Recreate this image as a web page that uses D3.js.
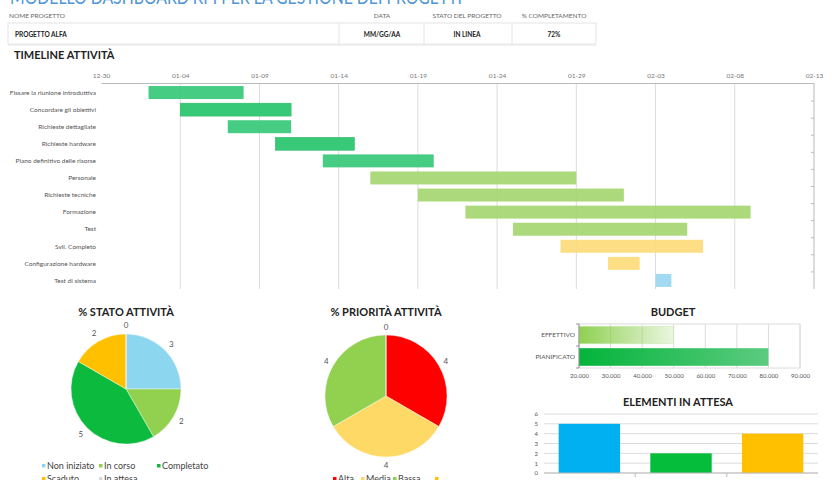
<!DOCTYPE html>
<html lang="it">
<head>
<meta charset="utf-8">
<title>Modello dashboard KPI per la gestione dei progetti</title>
<script src="https://cdnjs.cloudflare.com/ajax/libs/d3/7.8.5/d3.min.js"></script>
<style>
    body { margin: 0; background: #fff; }
    svg { display: block; font-family: Lato, "Open Sans", sans-serif; }
</style>
</head>
<body>
<script>
// ---- data ----
var headerLabels = ["NOME PROGETTO", "DATA", "STATO DEL PROGETTO", "% COMPLETAMENTO"];
var headerValues = ["PROGETTO ALFA", "MM/GG/AA", "IN LINEA", "72%"];

var tasks = ["Fissare la riunione introduttiva", "Concordare gli obiettivi", "Richieste dettagliate",
    "Richieste hardware", "Piano definitivo delle risorse", "Personale", "Richieste tecniche",
    "Formazione", "Test", "Svil. Completo", "Configurazione hardware", "Test di sistema"];
var taskStart = ["2023-01-02", "2023-01-04", "2023-01-07", "2023-01-10", "2023-01-13", "2023-01-16",
    "2023-01-19", "2023-01-22", "2023-01-25", "2023-01-28", "2023-01-31", "2023-02-03"];
var taskEnd = ["2023-01-08", "2023-01-11", "2023-01-11", "2023-01-15", "2023-01-20", "2023-01-29",
    "2023-02-01", "2023-02-09", "2023-02-05", "2023-02-06", "2023-02-02", "2023-02-04"];
var taskStatus = ["Completato", "Completato", "Completato", "Completato", "Completato", "In corso",
    "In corso", "In corso", "In corso", "Scaduto", "Scaduto", "Non iniziato"];

var statoLabels = ["Non iniziato", "In corso", "Completato", "Scaduto", "In attesa"];
var statoValues = [3, 2, 5, 2, 0];

var prioritaLabels = ["Alta", "Media", "Bassa", ""];
var prioritaValues = [4, 4, 4, 0];

var budgetLabels = ["EFFETTIVO", "PIANIFICATO"];
var budgetValues = [50000, 80000];

var attesaLabels = ["Decisioni", "Azioni", "Richieste di modifica"];
var attesaValues = [5, 2, 4];

// ---- colours ----
var ganttColor = { "Completato": "#37c878", "In corso": "#a4d670", "Scaduto": "#fedb7b", "Non iniziato": "#9ad8f0" };
var statoColor = d3.scaleOrdinal().domain(statoLabels)
    .range(["#8dd6ef", "#92d050", "#0cbb3e", "#ffc000", "#d9d9d9"]);
var prioritaColor = d3.scaleOrdinal().domain(prioritaLabels)
    .range(["#ff0000", "#ffd966", "#92d050", "#ffc000"]);
var grid = "#dcdcdc", txt = "#555";

var it = d3.formatLocale({ decimal: ",", thousands: ".", grouping: [3], currency: ["€", ""] });

var svg = d3.select("body").append("svg").attr("width", 840).attr("height", 480);

// ---- page header ----
svg.append("text").attr("x", 10).attr("y", 4)
    .attr("textLength", 452).attr("lengthAdjust", "spacingAndGlyphs")
    .style("font-size", "19px").style("fill", "#4f95d6")
    .text("MODELLO DASHBOARD KPI PER LA GESTIONE DEI PROGETTI");

var colX = [9, 382, 467, 554];
svg.selectAll(".hlab").data(headerLabels).enter().append("text")
    .attr("x", (d, i) => colX[i]).attr("y", 18)
    .attr("text-anchor", (d, i) => i == 0 ? "start" : "middle")
    .style("font-size", "6.5px").style("fill", "#666").text(d => d);

svg.append("rect").attr("x", 8).attr("y", 23).attr("width", 588).attr("height", 21)
    .attr("fill", "#fff").attr("stroke", "#e4e4e4");
svg.append("line").attr("x1", 8).attr("x2", 596).attr("y1", 45).attr("y2", 45).attr("stroke", "#efefef").attr("stroke-width", 2);
[339, 424, 512].forEach(function(xx) {
    svg.append("line").attr("x1", xx).attr("x2", xx).attr("y1", 23).attr("y2", 44).attr("stroke", "#e4e4e4");
});
svg.selectAll(".hval").data(headerValues).enter().append("text")
    .attr("x", (d, i) => i == 0 ? 15 : colX[i]).attr("y", 37)
    .attr("text-anchor", (d, i) => i == 0 ? "start" : "middle")
    .style("font-size", "6.5px").style("font-weight", "bold").style("fill", "#222").text(d => d);

function title(x, y, s, anchor) {
    svg.append("text").attr("x", x).attr("y", y).attr("text-anchor", anchor || "middle")
        .style("font-size", "11px").style("font-weight", "bold").style("fill", "#222").text(s);
}
title(14, 59, "TIMELINE ATTIVITÀ", "start");

// ---- gantt ----
var parse = d3.timeParse("%Y-%m-%d");
var t0 = parse("2022-12-30"), t1 = parse("2023-02-13");
var x = d3.scaleTime().domain([t0, t1]).range([101, 814]);
var y = d3.scaleBand().domain(tasks).range([84, 289]).paddingInner(0.24).paddingOuter(0.12);
var ticks = d3.timeDay.range(t0, d3.timeDay.offset(t1, 1), 5);

var gantt = svg.append("g");
gantt.selectAll(".vgrid").data(ticks.slice(1)).enter().append("line")
    .attr("x1", d => x(d)).attr("x2", d => x(d)).attr("y1", 83).attr("y2", 289)
    .attr("stroke", grid);

var ax = gantt.append("g").attr("transform", "translate(0,83)")
    .call(d3.axisTop(x).tickValues(ticks).tickFormat(d3.timeFormat("%m-%d")).tickSize(0).tickPadding(5));
ax.select(".domain").attr("stroke", "#bbb");
ax.selectAll("text").style("font-size", "6.5px").style("fill", "#777").style("font-family", "Lato, sans-serif");

// right edge with small row ticks
gantt.append("line").attr("x1", 814).attr("x2", 814).attr("y1", 83).attr("y2", 289).attr("stroke", "#ccc");
gantt.selectAll(".rtick").data(tasks.slice(1)).enter().append("line")
    .attr("x1", 811).attr("x2", 814).attr("y1", d => y(d) - y.step() * y.paddingInner() / 2)
    .attr("y2", d => y(d) - y.step() * y.paddingInner() / 2).attr("stroke", "#bbb");

gantt.selectAll(".bar").data(tasks).enter().append("rect")
    .attr("x", (d, i) => x(parse(taskStart[i])))
    .attr("width", (d, i) => x(parse(taskEnd[i])) - x(parse(taskStart[i])))
    .attr("y", d => y(d)).attr("height", y.bandwidth())
    .attr("fill", (d, i) => ganttColor[taskStatus[i]])
    .attr("fill-opacity", (d, i) => taskStatus[i] == "Completato" && i % 2 == 1 ? 1 : 0.92)
    .attr("stroke", (d, i) => taskStatus[i] == "Completato" && i % 2 == 1 ? "#2fb96a" : "none")
    .attr("stroke-width", 0.5);

gantt.selectAll(".tlab").data(tasks).enter().append("text")
    .attr("x", 96).attr("y", d => y(d) + y.bandwidth() / 2).attr("dy", "0.35em")
    .attr("text-anchor", "end").style("font-size", "6.5px").style("fill", txt).text(d => d);

// ---- pies ----
function drawPie(cx, cy, r, labelR, labels, values, color) {
    var g = svg.append("g").attr("transform", `translate(${cx},${cy})`);
    var arcs = d3.pie().sort(null)(values);
    var arc = d3.arc().innerRadius(0).outerRadius(r);
    var lab = d3.arc().innerRadius(labelR).outerRadius(labelR);
    g.selectAll("path").data(arcs).enter().append("path")
        .attr("d", arc).attr("fill", (d, i) => color(labels[i]))
        .attr("stroke", "#fff").attr("stroke-width", 0.4);
    g.selectAll("text").data(arcs).enter().append("text")
        .attr("transform", d => `translate(${lab.centroid(d)})`).attr("dy", "0.35em")
        .attr("text-anchor", "middle").style("font-size", "8px").style("fill", txt)
        .text(d => d.data);
}
function legend(items, xs, ys, color) {
    items.forEach(function(s, i) {
        svg.append("rect").attr("x", xs[i]).attr("y", ys[i] - 5).attr("width", 3.5).attr("height", 3.5)
            .attr("fill", color(s));
        svg.append("text").attr("x", xs[i] + 5).attr("y", ys[i]).style("font-size", "9px")
            .style("fill", "#444").text(s);
    });
}

title(126, 316, "% STATO ATTIVITÀ");
drawPie(126, 389, 55, 64, statoLabels, statoValues, statoColor);
legend(statoLabels, [42, 99, 157, 42, 99], [469, 469, 469, 482, 482], statoColor);

title(386, 316, "% PRIORITÀ ATTIVITÀ");
drawPie(386, 396, 61, 69, prioritaLabels, prioritaValues, prioritaColor);
legend(prioritaLabels, [333, 361, 393, 435], [482, 482, 482, 482], prioritaColor);

// ---- budget ----
title(673, 316, "BUDGET");
var bx = d3.scaleLinear().domain([20000, 90000]).range([579, 800]);
var by = d3.scaleBand().domain(budgetLabels).range([324, 368]).paddingInner(0.2).paddingOuter(0.1);
var defs = svg.append("defs");
var g1 = defs.append("linearGradient").attr("id", "gEff");
g1.append("stop").attr("offset", "0%").attr("stop-color", "#8fd052");
g1.append("stop").attr("offset", "100%").attr("stop-color", "#8fd052").attr("stop-opacity", 0.18);
var g2 = defs.append("linearGradient").attr("id", "gPian");
g2.append("stop").attr("offset", "0%").attr("stop-color", "#04b43b");
g2.append("stop").attr("offset", "100%").attr("stop-color", "#5ccb80");

var bud = svg.append("g");
bud.selectAll(".bg").data(bx.ticks(7)).enter().append("line")
    .attr("x1", d => bx(d)).attr("x2", d => bx(d)).attr("y1", 324).attr("y2", 368).attr("stroke", grid);
bud.append("rect").attr("x", 579).attr("y", 324).attr("width", 221).attr("height", 44)
    .attr("fill", "none").attr("stroke", grid);
bud.selectAll(".bb").data(budgetLabels).enter().append("rect")
    .attr("x", bx(20000)).attr("y", d => by(d)).attr("height", by.bandwidth())
    .attr("width", (d, i) => bx(budgetValues[i]) - bx(20000))
    .attr("fill", (d, i) => i == 0 ? "url(#gEff)" : "url(#gPian)")
    .attr("stroke", (d, i) => i == 0 ? "#cfe8b8" : "none").attr("stroke-width", 0.5);
var bax = bud.append("g").attr("transform", "translate(0,368)")
    .call(d3.axisBottom(bx).ticks(7).tickFormat(it.format(",")).tickSize(0).tickPadding(6));
bax.select(".domain").remove();
bax.selectAll("text").style("font-size", "6px").style("fill", txt).style("font-family", "Lato, sans-serif");
bud.append("line").attr("x1", 579).attr("x2", 579).attr("y1", 324).attr("y2", 368).attr("stroke", "#999");
[324, 346, 368].forEach(function(yy) {
    bud.append("line").attr("x1", 576).attr("x2", 579).attr("y1", yy).attr("y2", yy).attr("stroke", "#999");
});
bud.selectAll(".bl").data(budgetLabels).enter().append("text")
    .attr("x", 575).attr("y", d => by(d) + by.bandwidth() / 2).attr("dy", "0.35em")
    .attr("text-anchor", "end").style("font-size", "6.5px").style("fill", txt).text(d => d);

// ---- elementi in attesa ----
title(678, 406, "ELEMENTI IN ATTESA");
var ex = d3.scaleBand().domain(attesaLabels).range([544, 818]).paddingInner(0.33).paddingOuter(0.16);
var ey = d3.scaleLinear().domain([0, 6]).range([473, 414]);
var attesaColor = ["#00b0f0", "#05bd3a", "#ffc000"];
var el = svg.append("g");
el.selectAll(".eg").data(ey.ticks(6)).enter().append("line")
    .attr("x1", 544).attr("x2", 818).attr("y1", d => ey(d)).attr("y2", d => ey(d)).attr("stroke", grid);
var eax = el.append("g").attr("transform", "translate(544,0)")
    .call(d3.axisLeft(ey).ticks(6).tickSize(0).tickPadding(6));
eax.select(".domain").remove();
eax.selectAll("text").style("font-size", "6px").style("fill", txt).style("font-family", "Lato, sans-serif");
el.selectAll(".eb").data(attesaLabels).enter().append("rect")
    .attr("x", d => ex(d)).attr("width", ex.bandwidth())
    .attr("y", (d, i) => ey(attesaValues[i])).attr("height", (d, i) => ey(0) - ey(attesaValues[i]))
    .attr("fill", (d, i) => attesaColor[i]);
el.append("line").attr("x1", 544).attr("x2", 818).attr("y1", 473).attr("y2", 473).attr("stroke", "#bbb");
el.selectAll(".et").data(attesaLabels.slice(1)).enter().append("line")
    .attr("x1", d => ex(d) - ex.step() * ex.paddingInner() / 2).attr("x2", d => ex(d) - ex.step() * ex.paddingInner() / 2)
    .attr("y1", 473).attr("y2", 477).attr("stroke", "#bbb");
el.selectAll(".el").data(attesaLabels).enter().append("text")
    .attr("x", d => ex(d) + ex.bandwidth() / 2).attr("y", 486).attr("text-anchor", "middle")
    .style("font-size", "8px").style("fill", txt).text(d => d);
</script>
</body>
</html>
